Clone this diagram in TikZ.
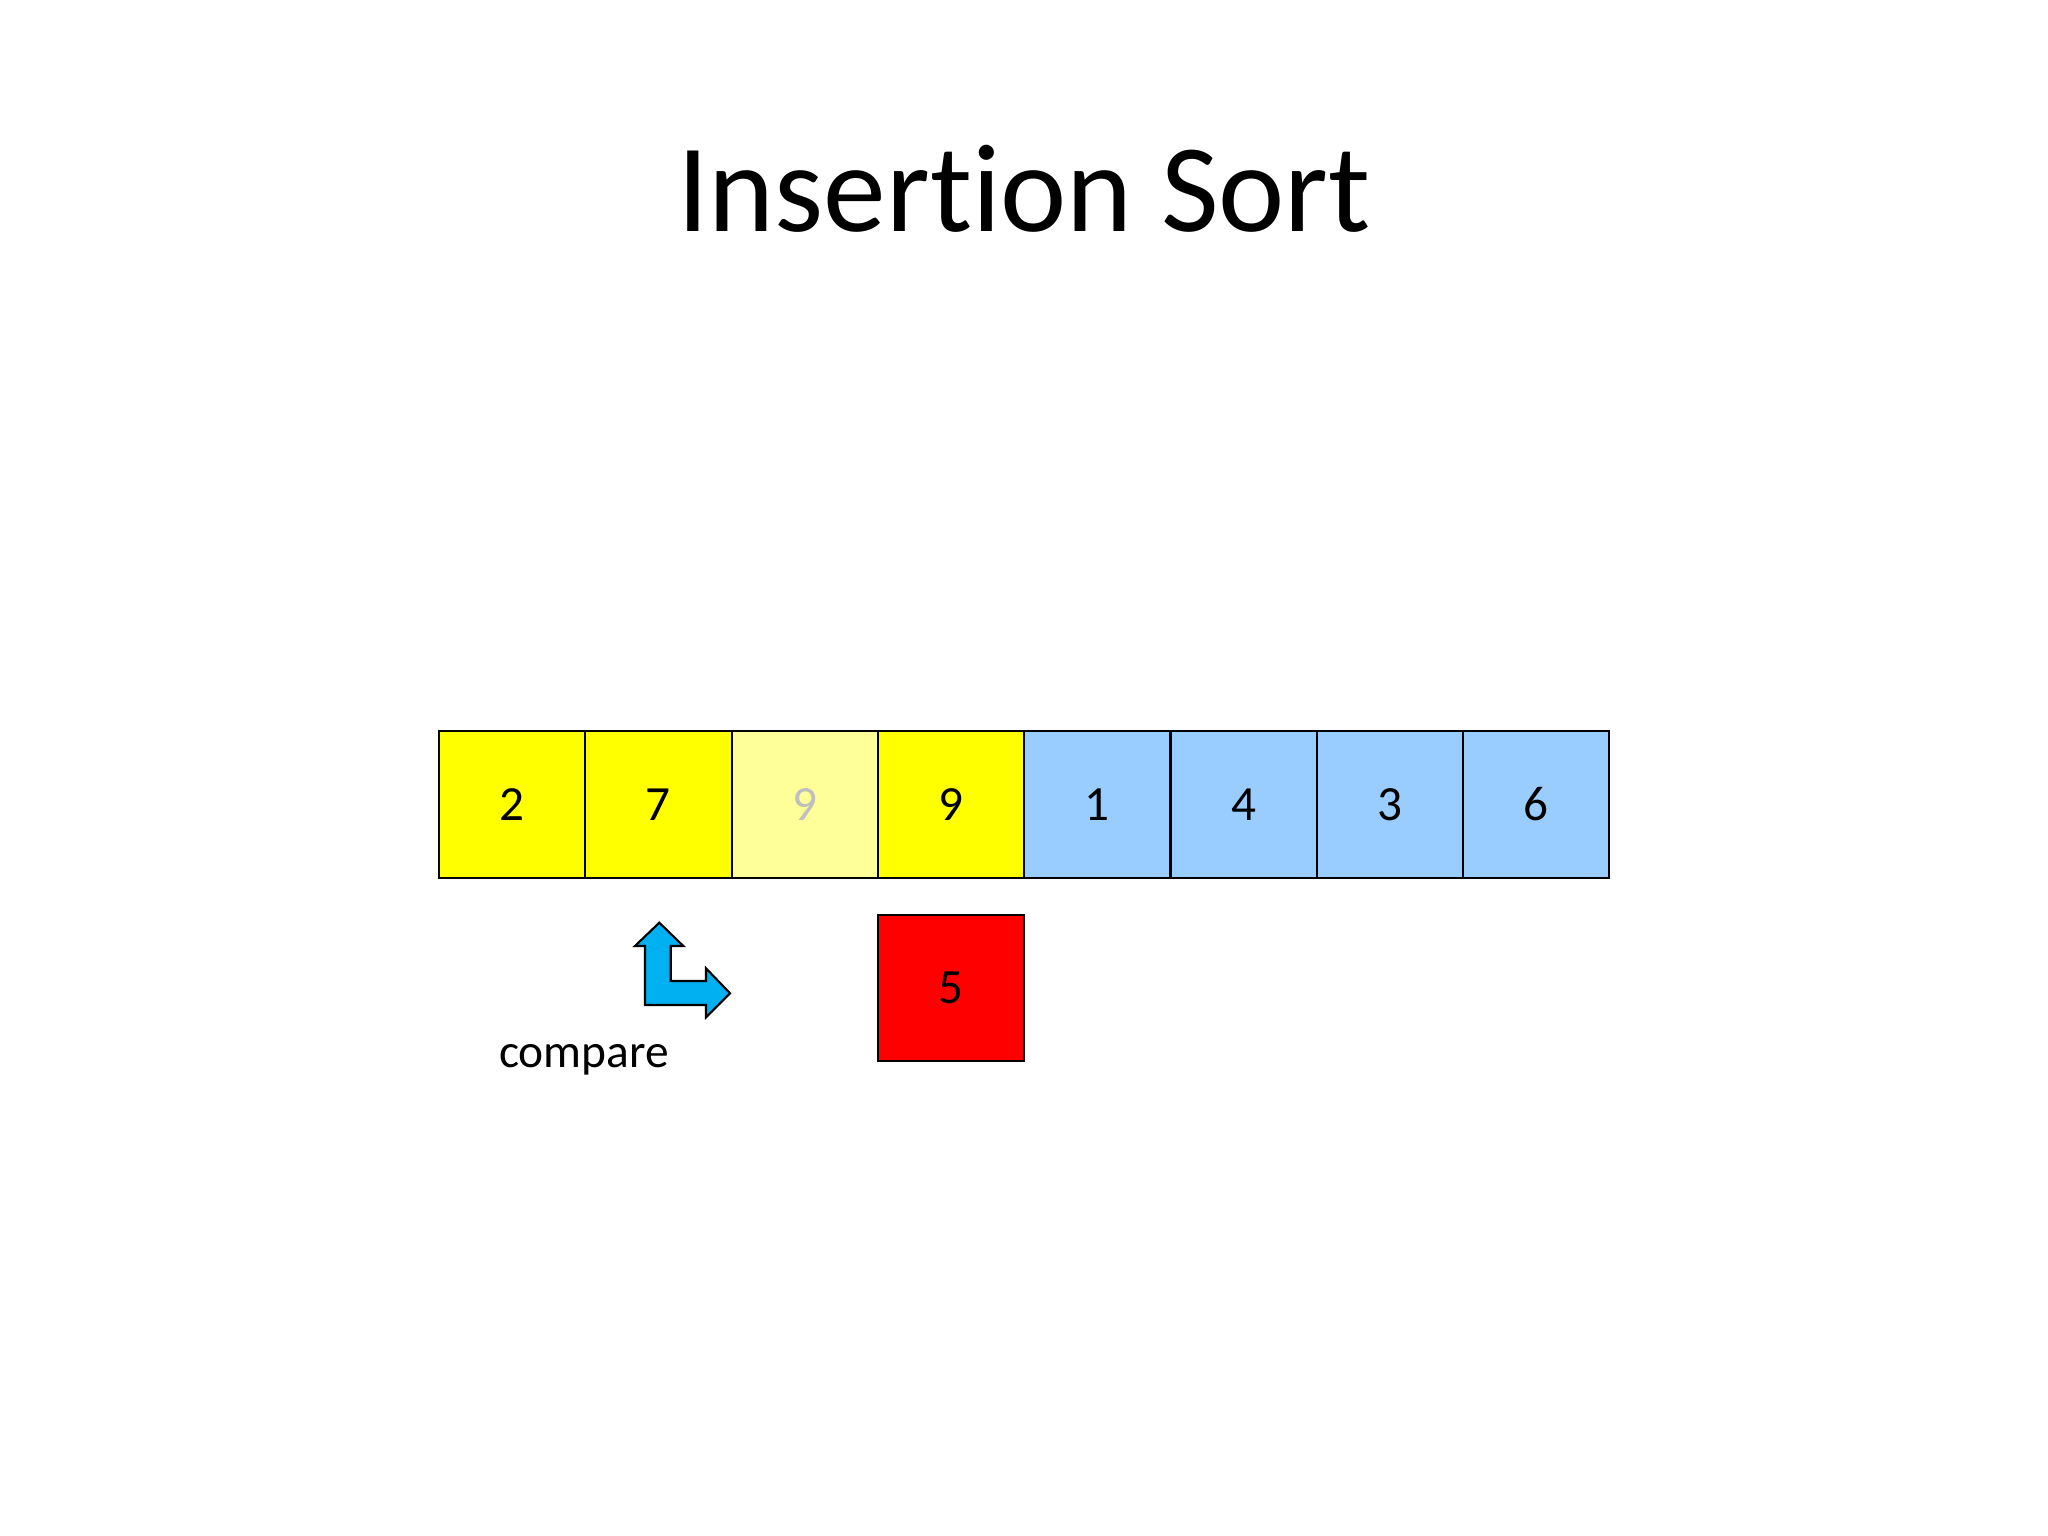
\documentclass[tikz,border=0pt]{standalone}
\usepackage{fontspec}
\setmainfont[Ligatures=NoCommon]{Carlito}
\usepackage{xcolor}
\usetikzlibrary{positioning}
\definecolor{sortyellow}{HTML}{FFFF00}
\definecolor{fadeyellow}{HTML}{FFFF99}
\definecolor{restblue}{HTML}{99CCFF}
\definecolor{keyred}{HTML}{FF0000}
\definecolor{arrowblue}{HTML}{00B0F0}
\definecolor{fadegrey}{HTML}{BFBFBF}
\tikzstyle{cell} = [draw, line width=0.6pt, minimum size=1.463cm, inner sep=0pt, outer sep=0pt, font=\fontsize{14}{17}\selectfont]

\begin{document}
\begin{tikzpicture}
		\useasboundingbox (0,0) rectangle (20.48,15.36); %slide frame
		
		\node (title) [anchor=base,font=\fontsize{35.7}{40}\selectfont] at (10.24,13.04) {Insertion Sort}; %title
		
		% array, sorted part in yellow
		\node[cell,fill=sortyellow] (c1) at (5.1215,7.315) {2}; % cell 1
		\node[cell,fill=sortyellow,right=0pt of c1] (c2) {7}; % cell 2
		\node[cell,fill=fadeyellow,text=fadegrey,right=0pt of c2] (c3) {9}; % cell 3
		\node[cell,fill=sortyellow,right=0pt of c3] (c4) {9}; % cell 4
		\node[cell,fill=restblue,right=0pt of c4] (c5) {1}; % cell 5
		\node[cell,fill=restblue,right=0pt of c5] (c6) {4}; % cell 6
		\node[cell,fill=restblue,right=0pt of c6] (c7) {3}; % cell 7
		\node[cell,fill=restblue,right=0pt of c7] (c8) {6}; % cell 8
		
		\node[cell,fill=keyred,below=0.375cm of c4] (key) {5}; % key to insert
		
		\draw[fill=arrowblue,line width=0.6pt,line join=miter] (6.593,6.133) -- (6.833,5.90) -- (6.707,5.90) -- (6.707,5.55) -- (7.06,5.55) -- (7.06,5.677) -- (7.30,5.427) -- (7.06,5.187) -- (7.06,5.31) -- (6.45,5.31) -- (6.45,5.90) -- (6.35,5.90) -- cycle; %bent arrow
		
		\node (cmp) [anchor=base,font=\fontsize{13.5}{16}\selectfont] at (5.84,4.68) {compare}; %label
		
\end{tikzpicture}
\end{document}
